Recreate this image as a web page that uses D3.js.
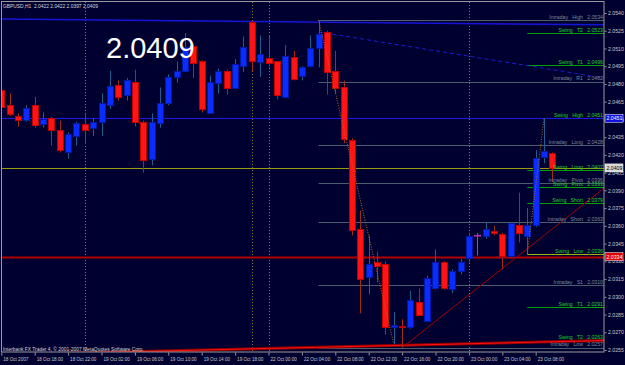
<!DOCTYPE html>
<html>
<head>
<meta charset="utf-8">
<script src="https://cdn.jsdelivr.net/npm/d3@7"></script>
<style>
  body { margin: 0; background: #000030; }
  svg text { font-family: "Liberation Sans", Arial, sans-serif; }
</style>
</head>
<body>
<div id="chart"></div>
<script>

// GBPUSD H1 bars (bar index 0 = 18 Oct 14:00)
var opens  = [2.0475,2.0462,2.0453,2.0450,2.0462,2.0446,2.0451,2.0441,2.0423,2.0436,
              2.0446,2.0443,2.0448,2.0462,2.0479,2.0470,2.0482,2.0448,2.0417,2.0447,
              2.0464,2.0486,2.0491,2.0512,2.0499,2.0456,2.0481,2.0491,2.0477,2.0495,
              2.0532,2.0498,2.0502,2.0499,2.0469,2.0503,2.0486,2.0495,2.0510,2.0524,
              2.0491,2.0477,2.0433,2.0357,2.0317,2.0329,2.0328,2.0274,2.0275,2.0274,
              2.0296,2.0280,2.0307,2.0329,2.0307,2.0321,2.0332,2.0352,2.0351,2.0356,
              2.0353,2.0334,2.0361,2.0352,2.0360,2.0418,2.0422];
var highs  = [2.0488,2.0472,2.0455,2.0462,2.0469,2.0456,2.0452,2.0449,2.0439,2.0448,
              2.0455,2.0451,2.0472,2.0491,2.0483,2.0485,2.0492,2.0449,2.0455,2.0477,
              2.0488,2.0499,2.0523,2.0514,2.0500,2.0487,2.0493,2.0492,2.0501,2.0520,
              2.0533,2.0521,2.0521,2.0499,2.0513,2.0508,2.0495,2.0521,2.0534,2.0525,
              2.0508,2.0483,2.0434,2.0373,2.0352,2.0338,2.0330,2.0287,2.0281,2.0305,
              2.0307,2.0318,2.0340,2.0330,2.0323,2.0332,2.0354,2.0354,2.0363,2.0360,
              2.0354,2.0363,2.0388,2.0375,2.0424,2.0451,2.0422];
var lows   = [2.0458,2.0453,2.0444,2.0448,2.0443,2.0443,2.0428,2.0422,2.0417,2.0428,
              2.0429,2.0436,2.0436,2.0459,2.0466,2.0466,2.0444,2.0405,2.0411,2.0443,
              2.0462,2.0481,2.0490,2.0485,2.0456,2.0455,2.0472,2.0471,2.0476,2.0490,
              2.0491,2.0486,2.0494,2.0467,2.0468,2.0483,2.0483,2.0494,2.0494,2.0471,
              2.0472,2.0430,2.0352,2.0286,2.0302,2.0312,2.0268,2.0260,2.0257,2.0273,
              2.0284,2.0279,2.0306,2.0306,2.0303,2.0319,2.0329,2.0335,2.0349,2.0352,
              2.0323,2.0333,2.0346,2.0336,2.0359,2.0413,2.0397];
var closes = [2.0461,2.0454,2.0450,2.0460,2.0445,2.0450,2.0441,2.0424,2.0438,2.0447,
              2.0441,2.0448,2.0464,2.0478,2.0469,2.0483,2.0448,2.0416,2.0448,2.0464,
              2.0486,2.0491,2.0511,2.0498,2.0458,2.0482,2.0491,2.0477,2.0497,2.0511,
              2.0499,2.0505,2.0498,2.0470,2.0504,2.0484,2.0494,2.0510,2.0522,2.0490,
              2.0477,2.0433,2.0357,2.0315,2.0328,2.0326,2.0275,2.0276,2.0274,2.0297,
              2.0285,2.0316,2.0329,2.0307,2.0322,2.0329,2.0351,2.0352,2.0357,2.0354,
              2.0334,2.0362,2.0354,2.0361,2.0417,2.0423,2.0409];

var timeBars   = [0,4,8,12,16,20,24,28,32,36,40,44,48,52,56,60,64];
var timeLabels = ["18 Oct 2007","18 Oct 18:00","18 Oct 22:00","19 Oct 02:00","19 Oct 06:00",
                  "19 Oct 10:00","19 Oct 14:00","19 Oct 18:00","22 Oct 00:00","22 Oct 04:00",
                  "22 Oct 08:00","22 Oct 12:00","22 Oct 16:00","22 Oct 20:00","23 Oct 00:00",
                  "23 Oct 04:00","23 Oct 08:00"];
var separatorBars = [10, 30, 32, 56];

var priceTicks = [2.0540,2.0525,2.0510,2.0495,2.0480,2.0465,2.0450,2.0435,2.0420,2.0405,
                  2.0390,2.0375,2.0360,2.0345,2.0330,2.0315,2.0300,2.0285,2.0270,2.0255];

// pivot levels drawn on the right
var intradayNames  = ["Intraday   High","Intraday   R1","Intraday   Long","Intraday   Pivot",
                      "Intraday   Short","Intraday   S1","Intraday   Low"];
var intradayValues = [2.0534,2.0482,2.0428,2.0396,2.0363,2.0310,2.0257];
var intradayStart  = 38;
var swingNames  = ["Swing   T2","Swing   T1","Swing   High","Swing   Long","Swing   Pivot",
                   "Swing   Short","Swing   Low","Swing   T1","Swing   T2"];
var swingValues = [2.0523,2.0496,2.0451,2.0407,2.0393,2.0379,2.0336,2.0291,2.0263];
var swingStart  = 63;

// full width price lines and their axis boxes
var hLinePrices = [2.0451, 2.0409, 2.0334];

// trendlines as [bar, price] pairs
var topTrend     = [[-1, 2.0535], [72.2, 2.0530]];
var dashTrend    = [[38, 2.0524], [72.2, 2.0485]];
var supportTrend = [[48, 2.0257], [72.2, 2.0392]];
var bottomTrend  = [[6.2, 2.0252], [72.2, 2.0263]];
var zigzag       = [[[38, 2.0534], [47, 2.0260]], [[63, 2.0336], [65, 2.0451]]];

var title = "GBPUSD,H1  2.0422 2.0422 2.0397 2.0409";
var lastPrice = "2.0409";

// #####################################################
// Setup
//
var W = 625, H = 365;
var plotRight = 604, plotBottom = 352;

var svg = d3.select("#chart").append("svg")
    .attr("width", W)
    .attr("height", H);

svg.append("rect")
    .attr("width", W).attr("height", H)
    .attr("fill", "#000030");

var x = d3.scaleLinear().domain([0, 66]).range([1.3, 552.4]);
var y = d3.scaleLinear().domain([2.0255, 2.0540]).range([350, 13]);

svg.append("clipPath").attr("id", "plot")
  .append("rect")
    .attr("x", 2).attr("y", 2)
    .attr("width", plotRight - 2).attr("height", plotBottom - 2);

var g = svg.append("g").attr("clip-path", "url(#plot)");

var line = d3.line()
    .x(function(d) { return x(d[0]); })
    .y(function(d) { return y(d[1]); });

// period separators
g.selectAll(".sep")
    .data(separatorBars)
    .enter().append("line")
      .attr("x1", function(d) { return Math.round(x(d)) + 0.5; })
      .attr("x2", function(d) { return Math.round(x(d)) + 0.5; })
      .attr("y1", 2).attr("y2", plotBottom)
      .attr("stroke", "#8a7d3a")
      .attr("stroke-width", 1)
      .attr("stroke-dasharray", "1,2");

// intraday levels (gray)
g.selectAll(".intra")
    .data(intradayValues)
    .enter().append("line")
      .attr("x1", x(intradayStart)).attr("x2", plotRight)
      .attr("y1", function(d) { return Math.round(y(d)) + 0.5; })
      .attr("y2", function(d) { return Math.round(y(d)) + 0.5; })
      .attr("stroke", "#4a5e6e");

// swing levels (green)
g.selectAll(".swing")
    .data(swingValues)
    .enter().append("line")
      .attr("x1", x(swingStart)).attr("x2", plotRight)
      .attr("y1", function(d) { return Math.round(y(d)) + 0.5; })
      .attr("y2", function(d) { return Math.round(y(d)) + 0.5; })
      .attr("stroke", function(d, i) { return i == 6 ? "#a0b010" : "#00a000"; });

// full width lines
var hColors = ["#1a1ae0", "#9a9a10", "#b00000"];
var hWidths = [1, 1, 2];
g.selectAll(".hline")
    .data(hLinePrices)
    .enter().append("line")
      .attr("x1", 2).attr("x2", plotRight)
      .attr("y1", function(d) { return Math.round(y(d)) + 0.5; })
      .attr("y2", function(d) { return Math.round(y(d)) + 0.5; })
      .attr("stroke", function(d, i) { return hColors[i]; })
      .attr("stroke-width", function(d, i) { return hWidths[i]; });

// trendlines
g.append("path").datum(topTrend).attr("d", line)
    .attr("fill", "none").attr("stroke", "#1515d8").attr("stroke-width", 1.5);
g.append("path").datum(dashTrend).attr("d", line)
    .attr("fill", "none").attr("stroke", "#1a1ad8").attr("stroke-dasharray", "4,3");
g.append("path").datum(bottomTrend).attr("d", line)
    .attr("fill", "none").attr("stroke", "#8a0000").attr("stroke-width", 3);
g.append("path").datum(bottomTrend).attr("d", line)
    .attr("fill", "none").attr("stroke", "#ff1010").attr("stroke-width", 1);
g.append("path").datum(supportTrend).attr("d", line)
    .attr("fill", "none").attr("stroke", "#a00000").attr("stroke-width", 1);

// #####################################################
// Candles
//
var bars = d3.range(opens.length);

function barColor(i) {
  if (closes[i] > opens[i]) return "bull";
  if (closes[i] < opens[i]) return "bear";
  return "doji";
}
var wickColor = {bull: "#1f5f90", bear: "#a02a1a", doji: "#c030c0"};
var bodyFill = {bull: "#0a2cff", bear: "#ff1414", doji: "#c030c0"};
var bodyStroke = {bull: "#0018a8", bear: "#c00000", doji: "#c030c0"};

g.selectAll(".wick")
    .data(bars)
    .enter().append("line")
      .attr("x1", function(i) { return Math.round(x(i)) + 0.5; })
      .attr("x2", function(i) { return Math.round(x(i)) + 0.5; })
      .attr("y1", function(i) { return y(highs[i]); })
      .attr("y2", function(i) { return y(lows[i]); })
      .attr("stroke", function(i) { return wickColor[barColor(i)]; });

g.selectAll(".body")
    .data(bars)
    .enter().append("rect")
      .attr("x", function(i) { return Math.round(x(i)) - 2.5; })
      .attr("width", 6)
      .attr("y", function(i) { return Math.round(y(Math.max(opens[i], closes[i]))) + 0.5; })
      .attr("height", function(i) {
        return Math.max(0.5, Math.round(Math.abs(y(opens[i]) - y(closes[i]))));
      })
      .attr("fill", function(i) { return bodyFill[barColor(i)]; })
      .attr("stroke", function(i) { return bodyStroke[barColor(i)]; })
      .attr("stroke-width", 1);

// zigzag
zigzag.forEach(function(seg) {
  g.append("path").datum(seg).attr("d", line)
      .attr("fill", "none")
      .attr("stroke", "#b06a20")
      .attr("stroke-dasharray", "1,1.5");
});

// level labels
g.selectAll(".intraName")
    .data(intradayValues)
    .enter().append("text")
      .attr("x", 583).attr("y", function(d) { return y(d) - 1.2; })
      .attr("text-anchor", "end")
      .style("white-space", "pre")
      .style("font-size", "5.2px")
      .attr("fill", "#7a8898")
      .text(function(d, i) { return intradayNames[i]; });
g.selectAll(".intraVal")
    .data(intradayValues)
    .enter().append("text")
      .attr("x", 603).attr("y", function(d) { return y(d) - 1.2; })
      .attr("text-anchor", "end")
      .style("font-size", "5.2px")
      .attr("fill", "#7a8898")
      .text(function(d) { return d.toFixed(4); });
g.selectAll(".swingName")
    .data(swingValues)
    .enter().append("text")
      .attr("x", 583).attr("y", function(d) { return y(d) - 1.2; })
      .attr("text-anchor", "end")
      .style("white-space", "pre")
      .style("font-size", "5.2px")
      .attr("fill", "#20d020")
      .text(function(d, i) { return swingNames[i]; });
g.selectAll(".swingVal")
    .data(swingValues)
    .enter().append("text")
      .attr("x", 603).attr("y", function(d) { return y(d) - 1.2; })
      .attr("text-anchor", "end")
      .style("font-size", "5.2px")
      .attr("fill", "#20d020")
      .text(function(d) { return d.toFixed(4); });

// big last price
svg.append("text")
    .attr("x", 106).attr("y", 58)
    .style("font-size", "29px")
    .attr("fill", "#ffffff")
    .text(lastPrice);

// title and copyright
svg.append("text")
    .attr("x", 3).attr("y", 8)
    .style("font-size", "4.9px")
    .style("white-space", "pre")
    .attr("fill", "#d8d8d8")
    .text(title);
svg.append("text")
    .attr("x", 3).attr("y", 350.5)
    .style("font-size", "4.9px")
    .attr("fill", "#d8d8d8")
    .text("Interbank FX Trader 4, \u00a9 2001-2007 MetaQuotes Software Corp.");

// #####################################################
// Axes and frame
//
svg.append("rect")
    .attr("x", 1.5).attr("y", 1.5)
    .attr("width", plotRight - 1.5).attr("height", plotBottom - 1.5)
    .attr("fill", "none")
    .attr("stroke", "#9a9a9a");

var yAxis = svg.append("g")
    .attr("transform", "translate(" + (plotRight + 0.5) + ",0)")
    .call(d3.axisRight(y).tickValues(priceTicks).tickFormat(d3.format(".4f")).tickSize(2).tickPadding(1.5));
yAxis.select(".domain").remove();
yAxis.selectAll("line").attr("stroke", "#9a9a9a");
yAxis.selectAll("text")
    .style("font-size", "5.2px")
    .attr("fill", "#c8c8c8");

var xAxis = svg.append("g")
    .attr("transform", "translate(0," + (plotBottom + 0.5) + ")")
    .call(d3.axisBottom(x).tickValues(timeBars)
      .tickFormat(function(d, i) { return timeLabels[i]; }).tickSize(3));
xAxis.select(".domain").remove();
xAxis.selectAll("line").attr("stroke", "#9a9a9a");
xAxis.selectAll("text")
    .attr("text-anchor", "start")
    .attr("x", 1.5).attr("y", 5).attr("dy", "0.71em")
    .style("font-size", "4.6px")
    .attr("fill", "#c8c8c8");

// price boxes on the axis
var boxFill = ["#1010e0", "#d8d8d8", "#e00000"];
var boxText = ["#ffffff", "#000000", "#ffffff"];
svg.selectAll(".pbox")
    .data(hLinePrices)
    .enter().append("rect")
      .attr("x", 605).attr("y", function(d) { return y(d) - 4; })
      .attr("width", 18).attr("height", 8)
      .attr("fill", function(d, i) { return boxFill[i]; })
      .attr("stroke", "#ffffff").attr("stroke-width", 0.5);
svg.selectAll(".ptext")
    .data(hLinePrices)
    .enter().append("text")
      .attr("x", 606.5).attr("y", function(d) { return y(d) + 2; })
      .style("font-size", "5.2px")
      .attr("fill", function(d, i) { return boxText[i]; })
      .text(function(d) { return d.toFixed(4); });

</script>
</body>
</html>
